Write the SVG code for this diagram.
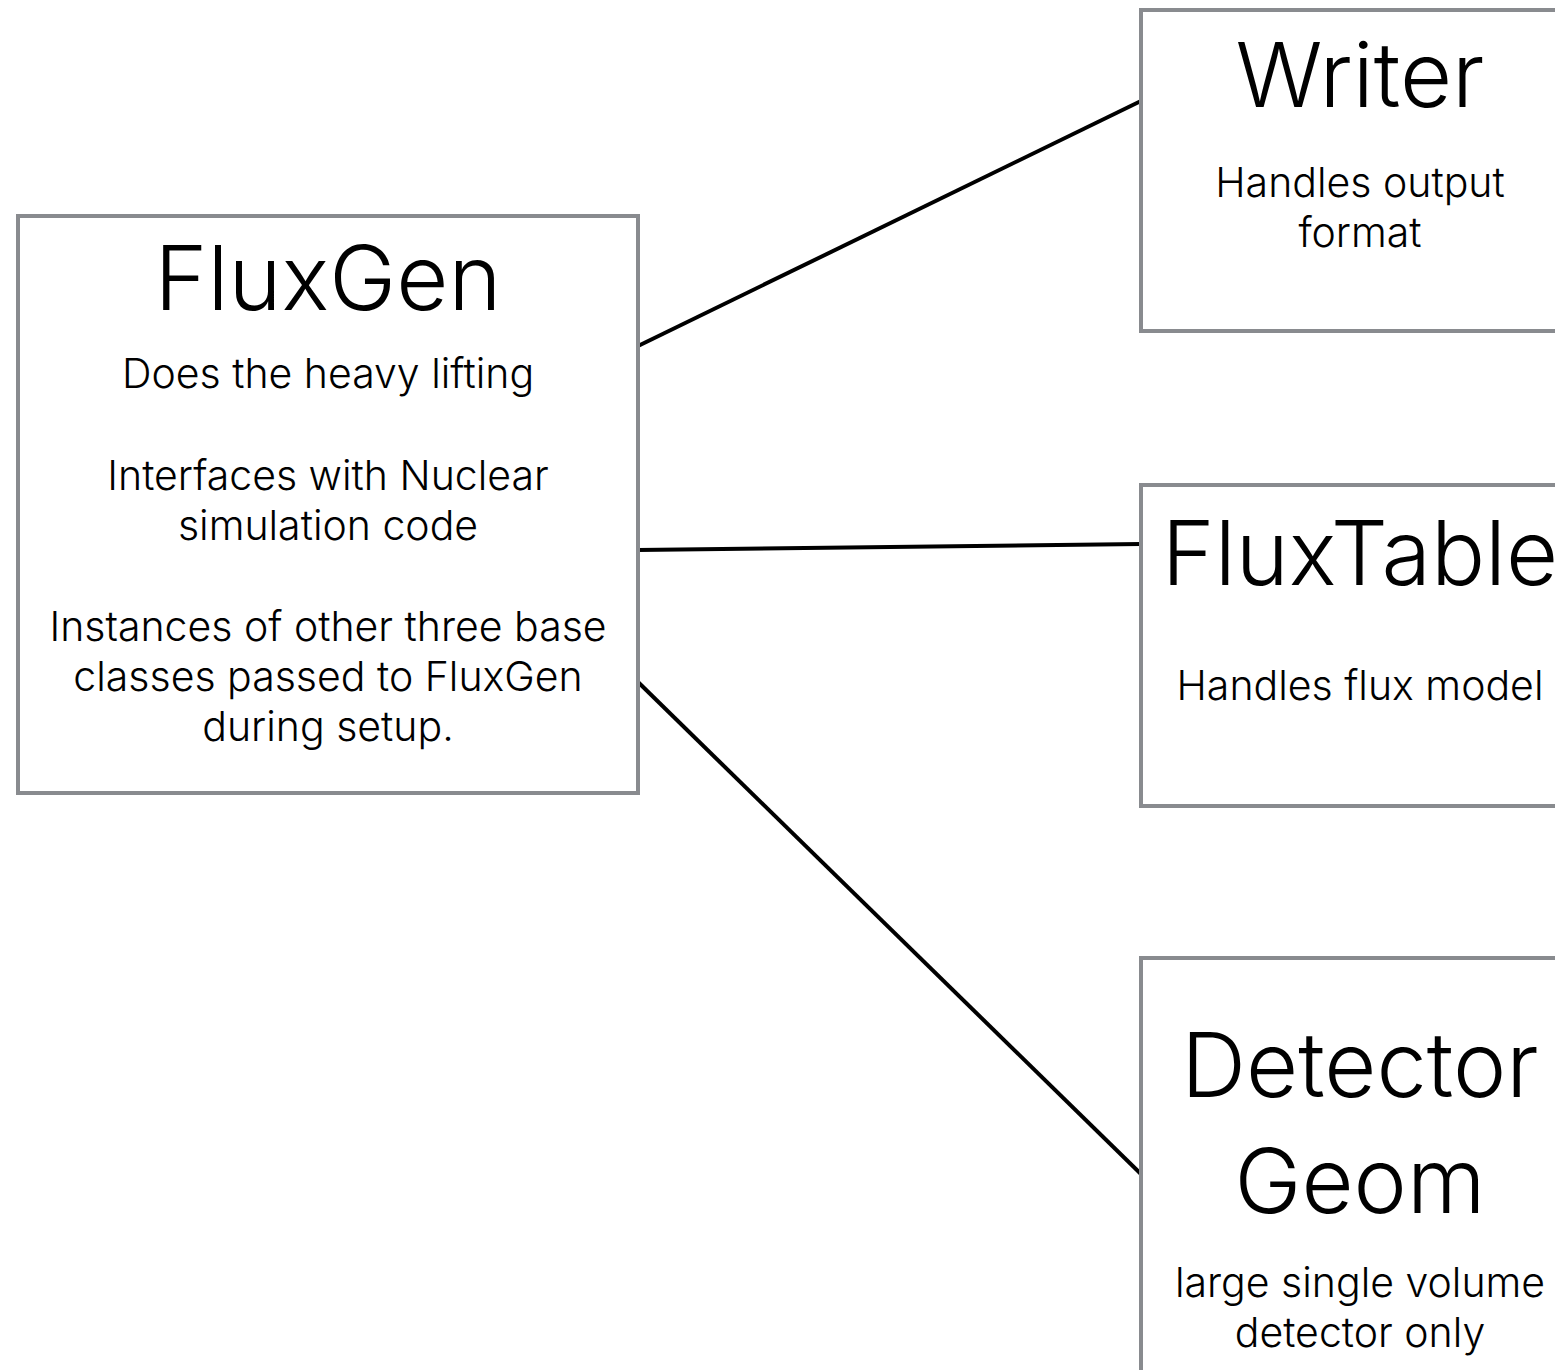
<svg xmlns="http://www.w3.org/2000/svg" width="1555" height="1370" viewBox="0 0 1555 1370">
<style>
.box{fill:#fff;stroke:#898b8f;stroke-width:4}
.t{font-family:Inter,"Liberation Sans",sans-serif;font-weight:300;fill:#000;text-anchor:middle}
.h{font-size:90px}
.b{font-size:41px}
.c{stroke:#000;stroke-width:4;fill:none}
</style>
<rect width="1555" height="1370" fill="#fff"/>
<g id="connectors">
<line class="c" x1="638" y1="346" x2="1143" y2="100"/>
<line class="c" x1="638" y1="550" x2="1141" y2="544"/>
<line class="c" x1="638" y1="682" x2="1143" y2="1176"/>
</g>
<g id="fluxgen">
<rect class="box" x="18" y="216" width="620" height="577"/>
<text class="t h" x="328" y="310">FluxGen</text>
<text class="t b" x="328" y="388">Does the heavy lifting</text>
<text class="t b" x="328" y="490">Interfaces with Nuclear</text>
<text class="t b" x="328" y="540">simulation code</text>
<text class="t b" x="328" y="641">Instances of other three base</text>
<text class="t b" x="328" y="691">classes passed to FluxGen</text>
<text class="t b" x="328" y="741">during setup.</text>
</g>
<g id="writer">
<rect class="box" x="1141" y="10" width="440" height="321"/>
<text class="t h" x="1360" y="107">Writer</text>
<text class="t b" x="1360" y="197">Handles output</text>
<text class="t b" x="1360" y="247">format</text>
</g>
<g id="fluxtable">
<rect class="box" x="1141" y="485" width="440" height="321"/>
<text class="t h" x="1360" y="585">FluxTable</text>
<text class="t b" x="1360" y="700">Handles flux model</text>
</g>
<g id="detector">
<rect class="box" x="1141" y="958" width="440" height="440"/>
<text class="t h" x="1360" y="1097">Detector</text>
<text class="t h" x="1360" y="1213">Geom</text>
<text class="t b" x="1360" y="1297">large single volume</text>
<text class="t b" x="1360" y="1347">detector only</text>
</g>
</svg>
